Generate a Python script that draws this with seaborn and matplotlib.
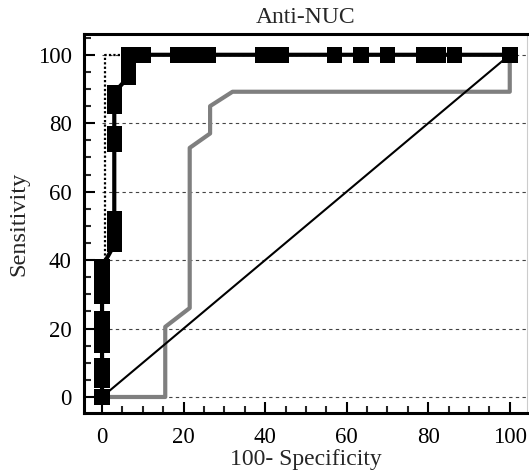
import matplotlib
matplotlib.use("Agg")
import matplotlib.pyplot as plt
import seaborn as sns
import numpy as np
from matplotlib.ticker import MultipleLocator

sns.set_style("ticks")
plt.rcParams['font.family'] = ['Liberation Serif', 'DejaVu Serif']

title = "Anti-NUC"
xlabel = "100- Specificity"
ylabel = "Sensitivity"
xticks = [0, 20, 40, 60, 80, 100]
yticks = [0, 20, 40, 60, 80, 100]

# Black ROC curve (points with square markers)
black_x = [0, 0, 0, 0, 0, 0, 0, 0, 0, 0,
           3, 3, 3, 3, 3, 3, 3,
           6.5, 6.5, 6.5,
           10, 18.5, 21, 23.5, 26, 39.5, 42, 44, 57, 63.5, 70, 79, 82.5, 86.5, 100]
black_y = [0, 5, 9, 15, 18, 20.5, 23, 29.5, 34, 38,
           44.5, 48, 52, 74, 77, 85, 89,
           93.5, 97.5, 100,
           100, 100, 100, 100, 100, 100, 100, 100, 100, 100, 100, 100, 100, 100, 100]

# Grey ROC curve
grey_x = [0, 15.5, 15.5, 21.5, 21.5, 26.5, 26.5, 32, 100, 100]
grey_y = [0, 0, 20.5, 26, 72.8, 77, 85, 89.2, 89.2, 100]

# Reference diagonal
diag_x = [0, 100]
diag_y = [0, 100]

# Dotted bound line
dot_x = [0.7, 0.7, 100]
dot_y = [40, 100, 100]

fig = plt.figure(figsize=(5.29, 4.71), dpi=100)
ax = fig.add_axes([0.159, 0.123, 0.837, 0.805])

xmin, xmax = -4.4, 104.2
ymin, ymax = -4.7, 106.1

# grid lines
ax.hlines(yticks, 0, xmax, colors='#444444', linestyles=(0, (3, 3)), linewidth=0.8, zorder=1)

sns.lineplot(x=grey_x, y=grey_y, sort=False, estimator=None, color='#7f7f7f',
             linewidth=3.0, ax=ax, zorder=2)
sns.lineplot(x=diag_x, y=diag_y, sort=False, estimator=None, color='black',
             linewidth=1.5, ax=ax, zorder=3)
sns.lineplot(x=dot_x, y=dot_y, sort=False, estimator=None, color='black',
             linewidth=1.6, linestyle=(0, (1, 1)), ax=ax, zorder=3)
sns.lineplot(x=black_x, y=black_y, sort=False, estimator=None, color='black',
             linewidth=3.0, ax=ax, zorder=4)
sns.scatterplot(x=black_x, y=black_y, marker='s', s=125, color='black',
                edgecolor='none', linewidth=0, ax=ax, zorder=5)

ax.set_xlim(xmin, xmax)
ax.set_ylim(ymin, ymax)
ax.set_xticks(xticks)
ax.set_yticks(yticks)
ax.xaxis.set_minor_locator(MultipleLocator(5))
ax.yaxis.set_minor_locator(MultipleLocator(5))
ax.tick_params(which='major', direction='in', length=8, width=1.5, labelsize=16.5,
               pad=10, colors='black')
ax.tick_params(axis='y', which='major', pad=9)
ax.tick_params(which='minor', direction='in', length=5, width=1.5)

for s in ['left', 'bottom', 'top']:
    ax.spines[s].set_linewidth(2.2)
    ax.spines[s].set_color('black')
ax.spines['right'].set_linewidth(0.8)
ax.spines['right'].set_color('#cccccc')

ax.set_title(title, fontsize=17, pad=8)
ax.set_xlabel(xlabel, fontsize=17, labelpad=1)
ax.set_ylabel(ylabel, fontsize=17.5, labelpad=6)

fig.savefig("out.png", dpi=100)
